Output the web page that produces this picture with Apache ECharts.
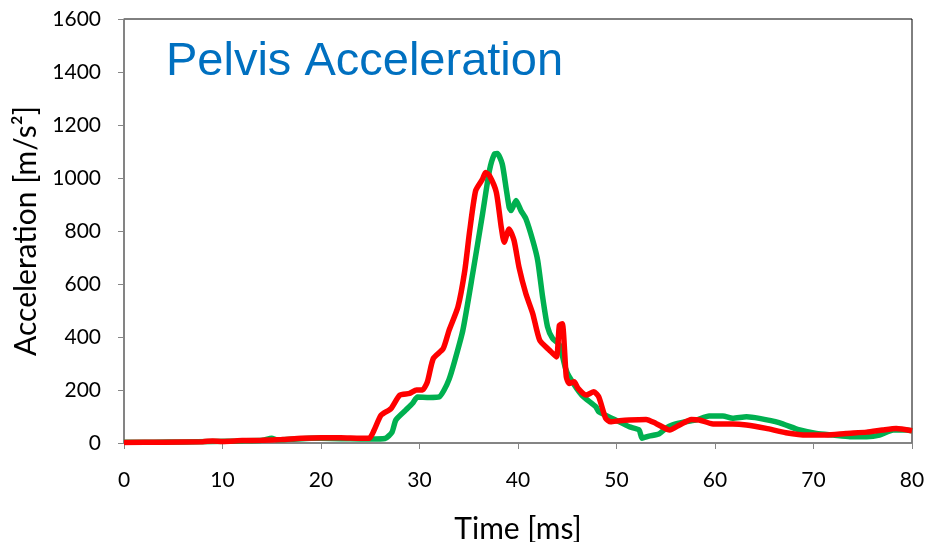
<!DOCTYPE html>
<html><head><meta charset="utf-8">
<script src="https://cdn.jsdelivr.net/npm/echarts@6/dist/echarts.min.js"></script>
<style>html,body{margin:0;padding:0;background:#fff}#c{width:926px;height:542px}</style>
</head><body><div id="c"></div>
<script>
const titleText = "Pelvis Acceleration";
const xName = "Time [ms]";
const yName = "Acceleration [m/s²]";
const xTicks = [0,10,20,30,40,50,60,70,80];
const yTicks = [0,200,400,600,800,1000,1200,1400,1600];

const greenT = [0,3,6,9,12,14,15,15.5,17,19,21,23,25,26.5,27.2,27.6,28.6,29.3,29.8,31,32,32.5,33,33.5,34.4,35.4,36.4,37.1,37.6,37.9,38.4,38.8,39.1,39.3,39.8,40.3,40.8,41.5,42,42.5,43,43.5,44.2,44.8,45.2,46.5,47.9,48.2,49.9,51.3,52.3,52.6,53.3,54.3,55,55.7,57,58.1,59.4,60.8,61.8,63.2,64.5,66.5,68.6,70.3,72,73.7,75.4,76.7,78.1,79.4,80];
const greenV = [3,3,4,6,8,10,18,12,14,18,17,16,15,17,40,87,124,150,174,172,174,200,240,300,425,639,864,1028,1090,1092,1053,960,890,877,915,877,846,764,689,551,438,395,370,285,250,180,137,118,87,61,49,18,26,34,55,68,80,87,102,102,93,99,93,77,49,36,30,24,24,30,49,49,46];

const redT = [0,4,8,9,10,12,14,16,18,20,22,24,24.9,25.4,26.1,27.1,28,29,29.7,30.3,30.8,31.4,32.4,33,33.9,34.6,35.1,35.7,36.4,36.7,37.1,37.8,38.3,38.6,39.1,39.6,40.1,40.8,41.5,42.2,43.2,43.9,44.2,44.5,44.9,45.2,45.7,46.1,46.9,47.7,48.2,48.9,49.4,50.3,51.3,53,54,55.4,56.4,57.6,58.4,59.8,61.8,63.2,65.2,67.2,69.3,71.3,73.3,75.4,77,78.4,80];
const redV = [2,3,5,8,6,9,10,13,18,20,20,18,18,49,105,130,181,187,200,200,231,319,356,425,513,651,802,952,996,1021,1009,946,814,758,808,764,664,563,488,388,350,325,444,450,250,225,231,206,181,193,174,93,80,84,87,89,74,49,68,89,87,72,72,68,55,39,30,30,36,41,49,55,46];

const pairs = (t, v) => t.map((x, i) => [x, v[i]]);
const chart = echarts.init(document.getElementById('c'));
const font = 'Lato, "Liberation Sans", sans-serif';
chart.setOption({
  animation: false,
  grid: {left: 124, right: 14, top: 19, bottom: 99, show: true, borderColor: '#000', borderWidth: 1, containLabel: false, outerBoundsMode: 'none'},
  graphic: [{type: 'text', left: 166, top: 39, style: {text: titleText, fill: '#0070C0', font: '47px "Liberation Sans", Arial, sans-serif'}}],
  xAxis: {type: 'value', min: 0, max: 80, interval: 10, name: xName, nameLocation: 'middle', nameGap: 71,
    nameTextStyle: {fontFamily: font, fontSize: 30, color: '#000'},
    axisLine: {lineStyle: {color: '#868686', width: 1.5}}, axisTick: {show: true, length: 6, lineStyle: {color: '#868686'}},
    axisLabel: {color: '#000', fontFamily: font, fontSize: 21, margin: 27, formatter: v => xTicks.includes(v) ? String(v) : ''},
    splitLine: {show: false}},
  yAxis: {type: 'value', min: 0, max: 1600, interval: 200, name: yName, nameLocation: 'middle', nameGap: 82,
    nameTextStyle: {fontFamily: font, fontSize: 30, color: '#000'},
    axisLine: {show: true, lineStyle: {color: '#868686', width: 1.5}}, axisTick: {show: true, length: 6, lineStyle: {color: '#868686'}},
    axisLabel: {color: '#000', fontFamily: font, fontSize: 21, margin: 23, formatter: v => yTicks.includes(v) ? String(v) : ''},
    splitLine: {show: false}},
  series: [
    {type: 'line', name: 'Green', data: pairs(greenT, greenV), showSymbol: false, smooth: 0.2, lineStyle: {color: '#00B050', width: 5.5}, itemStyle: {color: '#00B050'}},
    {type: 'line', name: 'Red', data: pairs(redT, redV), showSymbol: false, smooth: 0.2, lineStyle: {color: '#FF0000', width: 5.5}, itemStyle: {color: '#FF0000'}}
  ]
});
</script></body></html>
